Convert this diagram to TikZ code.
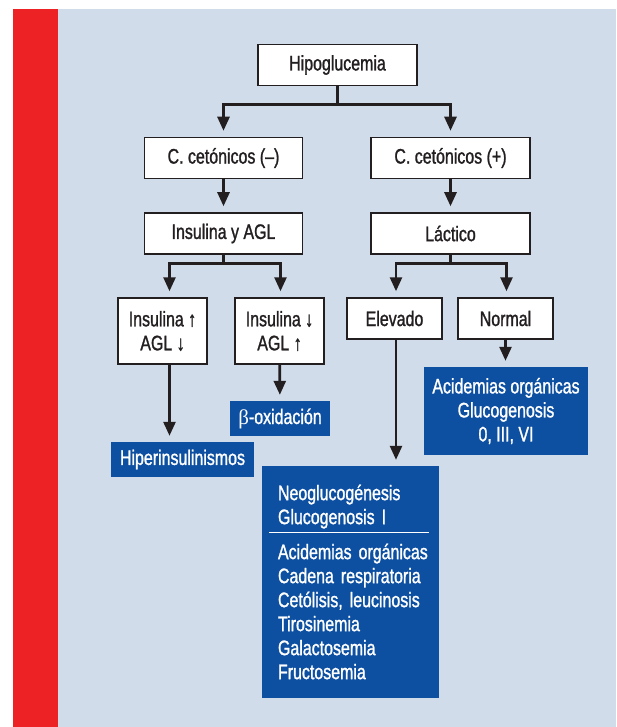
\documentclass[tikz,border=0pt]{standalone}
\usepackage{fontspec}
\setmainfont{Liberation Sans}[FakeStretch=0.76, FakeBold=1.2]
\newfontfamily\greekfont{Liberation Serif}
\usepackage{xcolor}
\usepackage{tikz}
\usetikzlibrary{arrows.meta, positioning}

\definecolor{panelblue}{RGB}{208,220,234}
\definecolor{sidered}{RGB}{237,34,36}
\definecolor{boxblue}{RGB}{13,79,161}
\definecolor{inkgray}{RGB}{35,31,32}

\begin{document}
\begin{tikzpicture}[
        x=1pt, y=-1pt,
        whitebox/.style={rectangle, draw=inkgray, line width=1.5pt, fill=white, text=inkgray, align=center, inner sep=0pt, font=\fontsize{21}{24}\selectfont},
        bluebox/.style={rectangle, fill=boxblue, text=white, align=center, inner sep=0pt, font=\fontsize{21}{24}\selectfont},
        arrow/.style={-{Triangle[length=14pt, width=12pt]}, line width=2.6pt, draw=inkgray, shorten >=6pt},
    ]
        % Page and side band
        \useasboundingbox (0,0) rectangle (616,727);
        \fill[white] (0,0) rectangle (616,727);
        \fill[sidered] (12.5,9) rectangle (58,727);
        \fill[panelblue] (58,9) rectangle (616,727);

        % Decision boxes
        \node[whitebox, minimum width=159pt, minimum height=41pt] (hipo) at (337.5,65) {Hipoglucemia};
        \node[whitebox, minimum width=158pt, minimum height=41pt] (ctneg) at (223.5,158) {C. cetónicos (–)};
        \node[whitebox, minimum width=159pt, minimum height=41pt] (ctpos) at (450.5,158) {C. cetónicos (+)};
        \node[whitebox, minimum width=158pt, minimum height=41pt] (insagl) at (223.5,233.5) {Insulina y AGL};
        \node[whitebox, minimum width=159pt, minimum height=41pt] (lactico) at (450.5,233.5) {Láctico};
        \node[whitebox, minimum width=89pt, minimum height=66pt] (insup) at (162.5,331) {Insulina ↑\\AGL ↓};
        \node[whitebox, minimum width=89pt, minimum height=66pt] (insdown) at (279.5,331) {Insulina ↓\\AGL ↑};
        \node[whitebox, minimum width=95pt, minimum height=41pt] (elevado) at (394.5,318.5) {Elevado};
        \node[whitebox, minimum width=95pt, minimum height=41pt] (normal) at (505.5,318.5) {Normal};

        % Results
        \node[bluebox, minimum width=100pt, minimum height=35pt] (betaox) at (280,418.5) {{\greekfont β}-oxidación};
        \node[bluebox, minimum width=143pt, minimum height=35pt] (hiper) at (182.5,459.5) {Hiperinsulinismos};
        \node[bluebox, minimum width=164pt, minimum height=88pt] (acid) at (506,411) {Acidemias orgánicas\\Glucogenosis\\0, III, VI};
        \node[bluebox, minimum width=177pt, minimum height=232pt, text width=145pt, align=left,
              execute at begin node=\hyphenpenalty10000\relax] (big) at (350.5,582)
            {Neoglucogénesis\\Glucogenosis~I\\[-15pt]\hspace*{-9pt}\rule{160pt}{0.8pt}\\[2pt]Acidemias~orgánicas\\Cadena~respiratoria\\Cetólisis,~leucinosis\\Tirosinemia\\Galactosemia\\Fructosemia};

        % Arrows
        \draw[arrow] (hipo.south) -- ++(0,18.5) -| (ctneg.north);
        \draw[arrow] (hipo.south) -- ++(0,18.5) -| (ctpos.north);
        \draw[arrow] (ctneg) -- (insagl);
        \draw[arrow] (ctpos) -- (lactico);
        \draw[arrow] (insagl.south) -- ++(0,9) -| ([xshift=7pt]insup.north);
        \draw[arrow] (insagl.south) -- ++(0,9) -| ([xshift=1pt]insdown.north);
        \draw[arrow] (lactico.south) -- ++(0,9) -| ([xshift=1.5pt]elevado.north);
        \draw[arrow] (lactico.south) -- ++(0,9) -| ([xshift=1pt]normal.north);
        \draw[arrow] ([xshift=7pt]insup.south) -- ([xshift=7pt]insup.south |- hiper.north);
        \draw[arrow] (insdown) -- (betaox);
        \draw[arrow] ([xshift=1.5pt]elevado.south) -- ([xshift=1.5pt]elevado.south |- big.north);
        \draw[arrow] (normal.south) -- (normal.south |- acid.north);
    \end{tikzpicture}
\end{document}
